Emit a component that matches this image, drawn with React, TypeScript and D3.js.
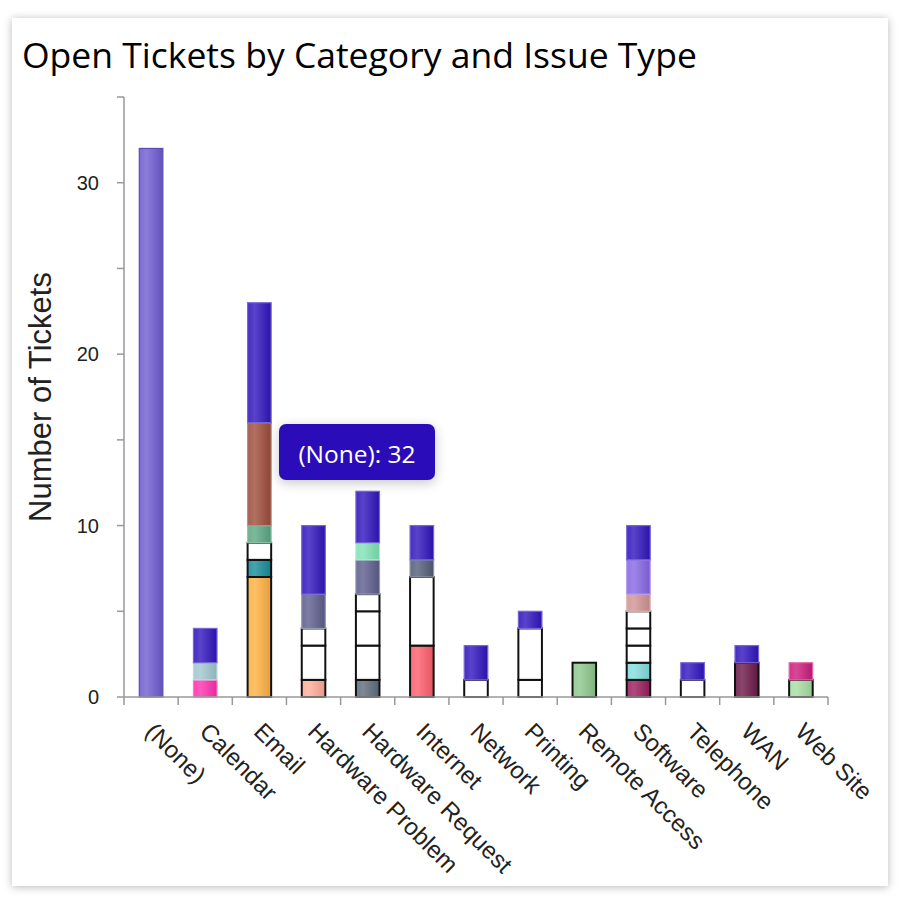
import * as d3 from 'd3'
import { useEffect, useRef } from 'react'

const categories = [
  '(None)',
  'Calendar',
  'Email',
  'Hardware Problem',
  'Hardware Request',
  'Internet',
  'Network',
  'Printing',
  'Remote Access',
  'Software',
  'Telephone',
  'WAN',
  'Web Site',
]

// tickets with no issue type, stacked on top of each bar
const noneCounts = [32, 2, 7, 4, 3, 2, 2, 1, 0, 2, 1, 1, 0]

// category-specific issue types, bottom to top within each category
const issueTypes = [
  'Calendar Sync', 'Calendar Sharing',
  'Email Delivery', 'Email Setup', 'Email Spam', 'Email Attachments', 'Email Access',
  'Monitor', 'Keyboard/Mouse', 'Laptop', 'Desktop',
  'New Laptop', 'New Monitor', 'New Phone', 'Peripherals', 'Upgrade', 'Docking Station',
  'Slow Connection', 'No Connection', 'Wi-Fi',
  'Network Drive',
  'Print Jam', 'Print Queue',
  'VPN',
  'Install', 'License', 'Crash', 'Update', 'Configuration', 'Performance', 'Access Rights',
  'Voicemail',
  'WAN Outage',
  'Content Update', 'Site Down',
]
const issueCategories = [
  'Calendar', 'Calendar',
  'Email', 'Email', 'Email', 'Email', 'Email',
  'Hardware Problem', 'Hardware Problem', 'Hardware Problem', 'Hardware Problem',
  'Hardware Request', 'Hardware Request', 'Hardware Request', 'Hardware Request', 'Hardware Request', 'Hardware Request',
  'Internet', 'Internet', 'Internet',
  'Network',
  'Printing', 'Printing',
  'Remote Access',
  'Software', 'Software', 'Software', 'Software', 'Software', 'Software', 'Software',
  'Telephone',
  'WAN',
  'Web Site', 'Web Site',
]
const issueCounts = [
  1, 1,
  7, 1, 1, 1, 6,
  1, 2, 1, 2,
  1, 2, 2, 1, 2, 1,
  3, 4, 1,
  1,
  1, 3,
  2,
  1, 1, 1, 1, 1, 1, 2,
  1,
  2,
  1, 1,
]
const issueColors = [
  '#ff2fae', '#9fc6cf',
  '#ffb040', '#178c99', '#ffffff', '#5aa882', '#9e4c3a',
  '#ffab99', '#ffffff', '#ffffff', '#5d5d8d',
  '#5c6c7c', '#ffffff', '#ffffff', '#ffffff', '#5d5d8d', '#7ee3b4',
  '#ff5d6c', '#ffffff', '#525e78',
  '#ffffff',
  '#ffffff', '#ffffff',
  '#8cc78c',
  '#9a1c5c', '#82dcdc', '#ffffff', '#ffffff', '#ffffff', '#d29292', '#8766e4',
  '#ffffff',
  '#6b1846',
  '#a6dea0', '#cc1c7c',
]
const issueOutlined = [
  false, false,
  true, true, true, false, false,
  true, true, true, false,
  true, true, true, true, false, false,
  true, true, false,
  true,
  true, true,
  true,
  true, true, true, true, true, false, false,
  true,
  true,
  true, false,
]
const noneColor = '#3014bd'

const yTicks = [0, 5, 10, 15, 20, 25, 30, 35]

const hex = (c: string) => d3.color(c)!.formatHex()
const mixWhite = (c: string, t: number) => hex(d3.interpolateRgb(c, '#ffffff')(t))

export default function App() {
  const svgRef = useRef<SVGSVGElement>(null)

  useEffect(() => {
    if (!svgRef.current) return
    d3.select(svgRef.current).selectAll('*').remove()

    const width = 902
    const height = 920
    const svg = d3.select(svgRef.current).attr('width', width).attr('height', height)
    const defs = svg.append('defs')

    const shadow = defs.append('filter').attr('id', 'card-shadow')
      .attr('x', '-5%').attr('y', '-5%').attr('width', '110%').attr('height', '110%')
    shadow.append('feDropShadow').attr('dx', 0).attr('dy', 1).attr('stdDeviation', 4)
      .attr('flood-color', '#000').attr('flood-opacity', 0.28)
    const tipShadow = defs.append('filter').attr('id', 'tip-shadow')
      .attr('x', '-30%').attr('y', '-40%').attr('width', '160%').attr('height', '200%')
    tipShadow.append('feDropShadow').attr('dx', 0).attr('dy', 3).attr('stdDeviation', 6)
      .attr('flood-color', '#000').attr('flood-opacity', 0.22)

    // card
    svg.append('rect')
      .attr('x', 12).attr('y', 18).attr('width', 876).attr('height', 868)
      .attr('fill', '#fff').attr('filter', 'url(#card-shadow)')

    svg.append('text')
      .attr('x', 22).attr('y', 68)
      .style('font-family', '"Open Sans", sans-serif')
      .style('font-size', '35.5px')
      .attr('fill', '#000')
      .text('Open Tickets by Category and Issue Type')

    const margin = { left: 124, right: 74, top: 97, bottom: 223 }
    const x = d3.scaleBand()
      .domain(categories)
      .range([margin.left, width - margin.right])
      .paddingInner(0.565)
      .paddingOuter(0.2825)
    const y = d3.scaleLinear().domain([0, 35]).range([height - margin.bottom, margin.top])

    const keys = [...issueTypes, '(None)']
    const table = categories.map((c, ci) => {
      const row: Record<string, any> = { category: c }
      issueTypes.forEach((t, i) => {
        row[t] = issueCategories[i] === c ? issueCounts[i] : 0
      })
      row['(None)'] = noneCounts[ci]
      return row
    })
    const series = d3.stack<Record<string, any>>().keys(keys)(table)

    const hovered = { series: '(None)', category: '(None)' }

    const makeGradient = (color: string) => {
      const id = 'g' + color.replace('#', '')
      if (!defs.select('#' + id).empty()) return id
      const g = defs.append('linearGradient').attr('id', id)
        .attr('x1', '0%').attr('x2', '100%').attr('y1', '0%').attr('y2', '0%')
      g.append('stop').attr('offset', '0%').attr('stop-color', mixWhite(color, 0.1))
      g.append('stop').attr('offset', '30%').attr('stop-color', mixWhite(color, 0.2))
      g.append('stop').attr('offset', '100%').attr('stop-color', d3.color(color)!.darker(0.3).formatHex())
      return id
    }

    const bars = svg.append('g')
    series.forEach((s, si) => {
      const key = s.key
      const isNone = key === '(None)'
      const baseColor = isNone ? noneColor : issueColors[si]
      const outlined = isNone ? false : issueOutlined[si]
      s.forEach(d => {
        if (d[1] - d[0] <= 0) return
        const cat = d.data.category as string
        const hot = hovered.series === key && hovered.category === cat
        const color = hot ? mixWhite(baseColor, 0.3) : baseColor
        const white = baseColor === '#ffffff'
        bars.append('rect')
          .attr('x', x(cat)!)
          .attr('y', y(d[1]))
          .attr('width', x.bandwidth())
          .attr('height', y(d[0]) - y(d[1]))
          .attr('fill', white ? '#fff' : `url(#${makeGradient(color)})`)
          .attr('stroke', outlined ? '#111' : hot ? d3.color(color)!.darker(0.5).formatHex() : mixWhite(color, 0.35))
          .attr('stroke-width', outlined ? 2 : 1.2)
      })
    })

    // axes
    const axisColor = '#999'
    const y0 = y(0)
    const yAxis = svg.append('g')
    yAxis.append('line')
      .attr('x1', margin.left).attr('x2', margin.left)
      .attr('y1', y(35)).attr('y2', y0)
      .attr('stroke', axisColor).attr('stroke-width', 1.5)
    yTicks.forEach(t => {
      yAxis.append('line')
        .attr('x1', margin.left - 7).attr('x2', margin.left)
        .attr('y1', y(t)).attr('y2', y(t))
        .attr('stroke', axisColor).attr('stroke-width', 1.5)
      if (t % 10 === 0) {
        yAxis.append('text')
          .attr('x', margin.left - 25).attr('y', y(t))
          .attr('dy', '0.35em')
          .attr('text-anchor', 'end')
          .style('font-family', '"Liberation Sans", Arial, sans-serif')
          .style('font-size', '20px')
          .attr('fill', '#222')
          .text(t)
      }
    })

    const xAxis = svg.append('g')
    const xEnd = width - margin.right
    xAxis.append('line')
      .attr('x1', margin.left).attr('x2', xEnd)
      .attr('y1', y0).attr('y2', y0)
      .attr('stroke', axisColor).attr('stroke-width', 1.5)
    const bounds = [...categories.map(c => x(c)! - (x.step() - x.bandwidth()) / 2), xEnd]
    bounds.forEach(bx => {
      xAxis.append('line')
        .attr('x1', bx).attr('x2', bx)
        .attr('y1', y0).attr('y2', y0 + 8)
        .attr('stroke', axisColor).attr('stroke-width', 1.5)
    })
    categories.forEach(c => {
      const cx = x(c)! + x.bandwidth() / 2
      xAxis.append('text')
        .attr('transform', `translate(${cx - 7},${y0 + 36}) rotate(45)`)
        .attr('text-anchor', 'start')
        .style('font-family', '"Liberation Sans", Arial, sans-serif')
        .style('font-size', '24px')
        .attr('fill', '#222')
        .text(c)
    })

    svg.append('text')
      .attr('transform', `translate(51,${(y(35) + y0) / 2}) rotate(-90)`)
      .attr('text-anchor', 'middle')
      .style('font-family', '"Liberation Sans", Arial, sans-serif')
      .style('font-size', '31px')
      .attr('fill', '#222')
      .text('Number of Tickets')

    // tooltip for the hovered segment
    const hoveredValue = noneCounts[categories.indexOf(hovered.category)]
    const tip = svg.append('g').attr('transform', 'translate(279,424)')
    tip.append('rect')
      .attr('width', 156).attr('height', 56).attr('rx', 7)
      .attr('fill', '#2b0cb8').attr('filter', 'url(#tip-shadow)')
    tip.append('text')
      .attr('x', 78).attr('y', 39)
      .attr('text-anchor', 'middle')
      .style('font-family', '"Open Sans", sans-serif')
      .style('font-size', '24.5px')
      .attr('fill', '#fff')
      .text(`${hovered.series}: ${hoveredValue}`)
  }, [])

  return (
    <div style={{ position: 'absolute', left: 0, top: 0 }}>
      <svg ref={svgRef} style={{ display: 'block' }}></svg>
    </div>
  )
}
